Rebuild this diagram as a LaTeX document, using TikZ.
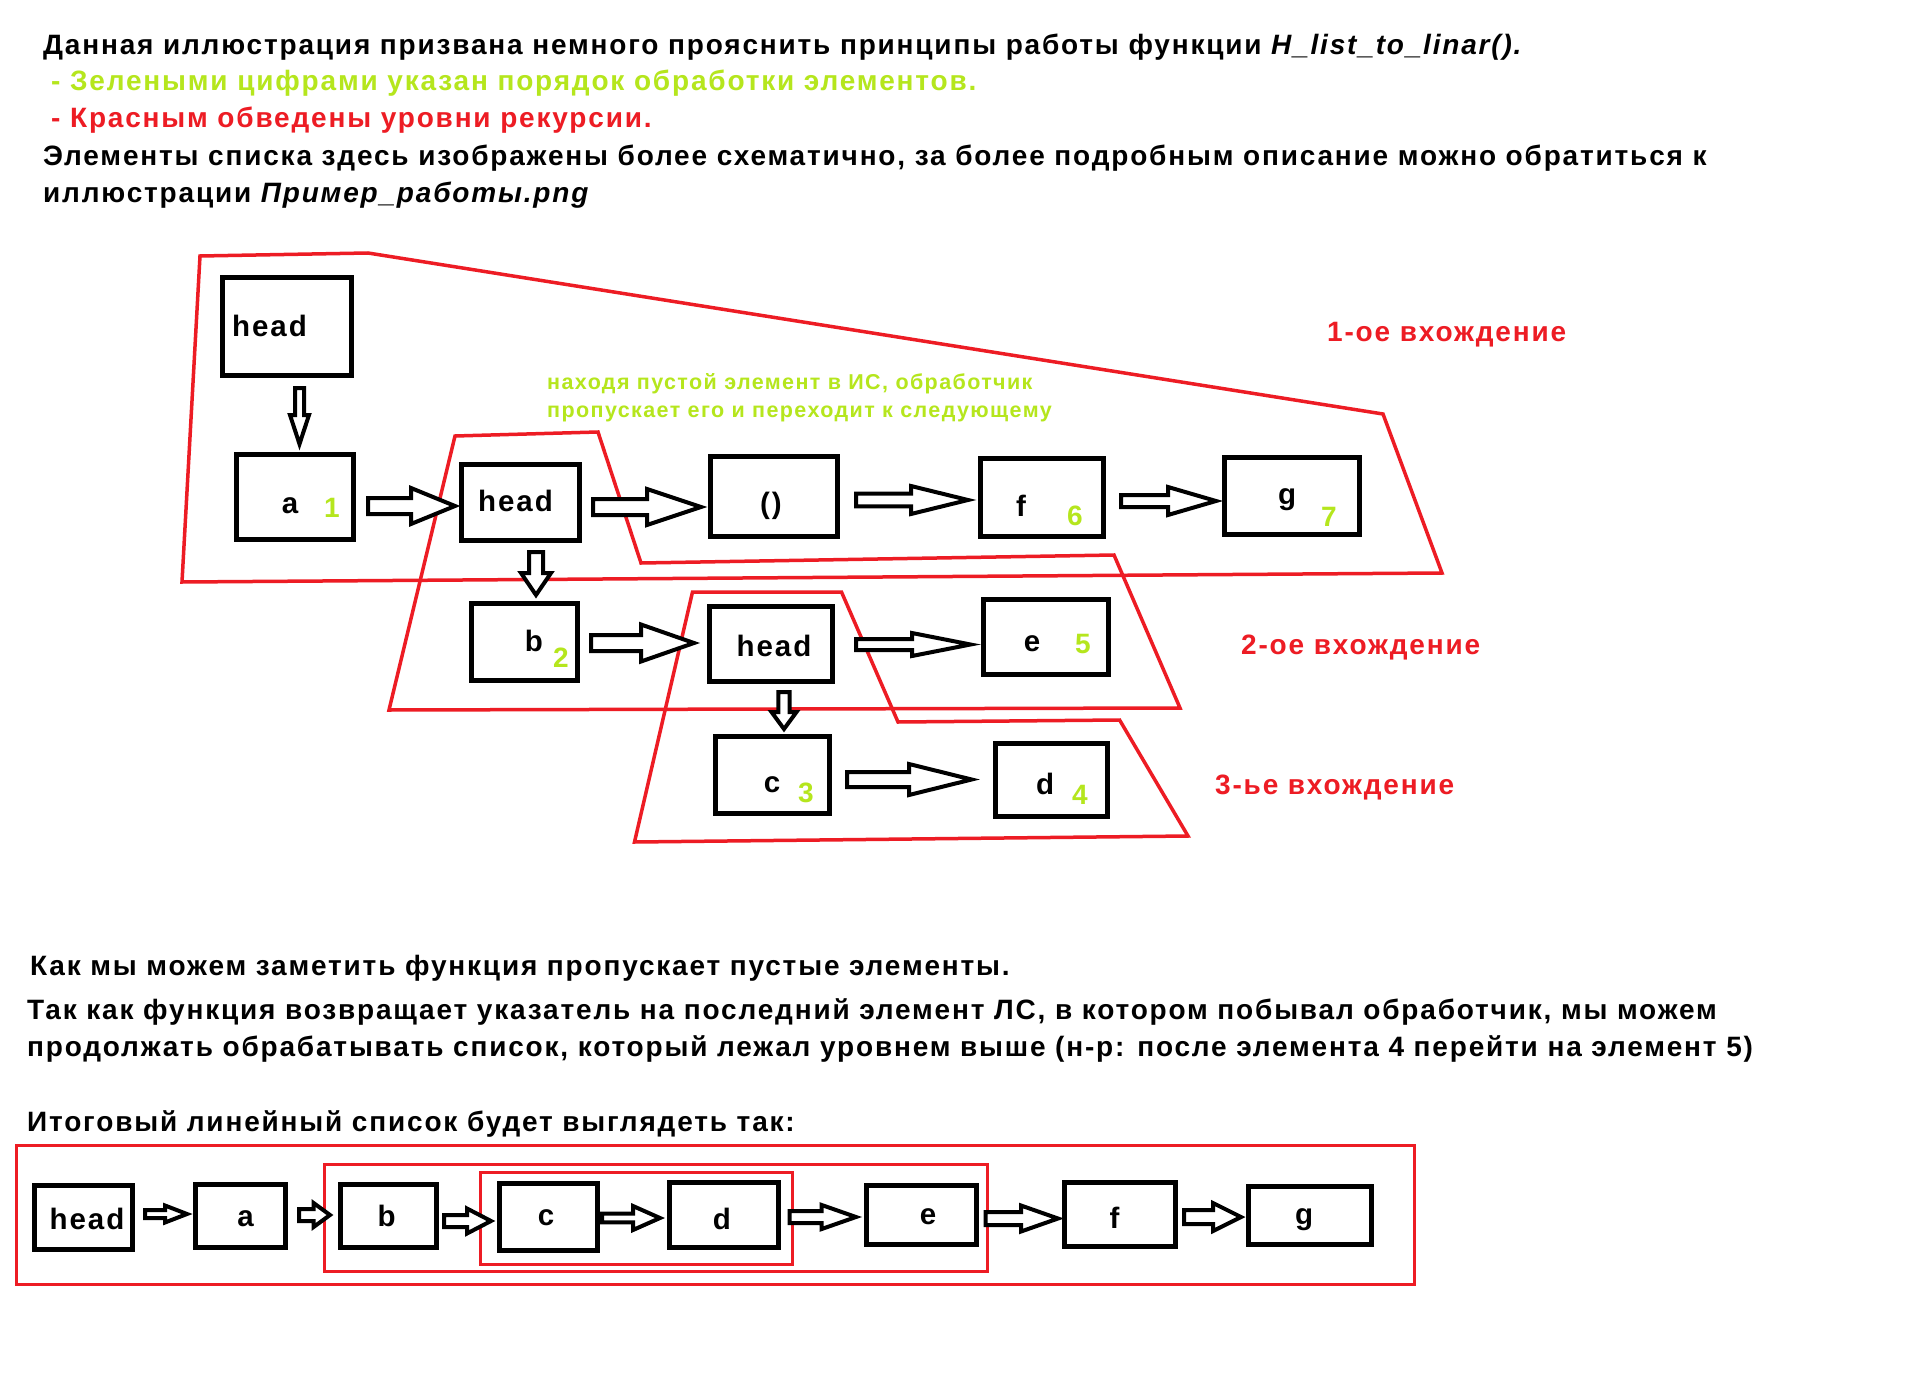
\documentclass[tikz,border=0pt]{standalone}
\usepackage{fontspec}
\setmainfont{Liberation Sans}[LetterSpace=6.5]
\usetikzlibrary{calc}
\definecolor{pred}{RGB}{237,28,36}
\definecolor{plime}{RGB}{181,230,29}
\newcommand\blkR[5]{\draw[blkarrow] let \p1=#1, \p2=#2 in
  (\x1,{\y1+#3pt}) -- ({\x2-#5pt},{\y1+#3pt}) -- ({\x2-#5pt},{\y1+#4pt}) -- (\x2,\y1)
  -- ({\x2-#5pt},{\y1-#4pt}) -- ({\x2-#5pt},{\y1-#3pt}) -- (\x1,{\y1-#3pt}) -- cycle;}
\newcommand\blkD[5]{\draw[blkarrow] let \p1=#1, \p2=#2 in
  ({\x1-#3pt},\y1) -- ({\x1-#3pt},{\y2+#5pt}) -- ({\x1-#4pt},{\y2+#5pt}) -- (\x1,\y2)
  -- ({\x1+#4pt},{\y2+#5pt}) -- ({\x1+#3pt},{\y2+#5pt}) -- ({\x1+#3pt},\y1) -- cycle;}
\begin{document}
\begin{tikzpicture}[x=1pt,y=-1pt,
  txt/.style={anchor=base west,inner sep=0pt,font=\fontsize{28}{34}\selectfont\bfseries},
  small/.style={anchor=base west,inner sep=0pt,text=plime,font=\fontsize{21.5}{26}\selectfont\bfseries},
  lbl/.style={anchor=base,inner sep=0pt,font=\fontsize{29.5}{34}\selectfont\bfseries},
  num/.style={anchor=base,inner sep=0pt,text=plime,font=\fontsize{28}{34}\selectfont\bfseries},
  box/.style={draw=black,line width=5pt,fill=none,inner sep=0pt},
  blkarrow/.style={draw=black,fill=white,line width=4pt,line join=miter},
  redline/.style={draw=pred,line width=3.5pt,line join=miter},
  redrect/.style={draw=pred,line width=3pt}]
\useasboundingbox (0,0) rectangle (1914,1375);
\fill[white] (0,0) rectangle (1914,1375);

% header text
\node[txt] (t1) at (43,55) {Данная иллюстрация призвана немного прояснить принципы работы функции \textit{H\_list\_to\_linar().}};
\node[txt,text=plime] (t2) at (51,91) {- Зелеными цифрами указан порядок обработки элементов.};
\node[txt,text=pred] (t3) at (51,128) {- Красным обведены уровни рекурсии.};
\node[txt] (t4) at (43,166) {Элементы списка здесь изображены более схематично, за более подробным описание можно обратиться к};
\node[txt] (t5) at (43,203) {иллюстрации \textit{Пример\_работы.png}};

% recursion levels
\draw[redline] (200,256) -- (368,253) -- (1383,414) -- (1442,573) -- (182,582) -- cycle;
\draw[redline] (455,436) -- (598,432) -- (641,563) -- (1114,555) -- (1180,708) -- (389,710) -- cycle;
\draw[redline] (692.5,592) -- (841.5,592) -- (898,722) -- (1119.6,720) -- (1188,836) -- (634.5,842) -- cycle;

% boxes
\node[box,minimum width=129pt,minimum height=98pt] (hd1) at (287,326.5) {};
\node[box,minimum width=117pt,minimum height=85pt] (a) at (295,497) {};
\node[box,minimum width=118pt,minimum height=76pt] (hd2) at (520.5,502.5) {};
\node[box,minimum width=127pt,minimum height=80pt] (emp) at (774,496.5) {};
\node[box,minimum width=123pt,minimum height=78pt] (f) at (1042,497.5) {};
\node[box,minimum width=135pt,minimum height=77pt] (g) at (1292,496) {};
\node[box,minimum width=106pt,minimum height=77pt] (b) at (524.5,642) {};
\node[box,minimum width=122.5pt,minimum height=75pt] (hd3) at (770.75,644) {};
\node[box,minimum width=125pt,minimum height=75pt] (e) at (1046,637) {};
\node[box,minimum width=114pt,minimum height=77pt] (c) at (772.5,775) {};
\node[box,minimum width=112pt,minimum height=73pt] (d) at (1051.5,780) {};

% box texts
\node[lbl,anchor=base west] (hd1t) at (232,336) {head};
\node[lbl] (at) at (290,513) {a};
\node[num] (an) at (332,517) {1};
\node[lbl] (hd2t) at (515.5,511) {head};
\node[lbl] (empt) at (771,513) {()};
\node[lbl] (ft) at (1021,516) {f};
\node[num] (fn) at (1075,525) {6};
\node[lbl] (gt) at (1287,504) {g};
\node[num] (gn) at (1329,526) {7};
\node[lbl] (bt) at (534,651) {b};
\node[num] (bn) at (561,667) {2};
\node[lbl] (hd3t) at (774,656) {head};
\node[lbl] (et) at (1032,651) {e};
\node[num] (en) at (1083,653) {5};
\node[lbl] (ct) at (772,792) {c};
\node[num] (cn) at (806,802) {3};
\node[lbl] (dt) at (1045,794) {d};
\node[num] (dn) at (1080,804) {4};

% block arrows
\blkD{($(hd1.south)+(12.5,10)$)}{($(a.north)+(0,-8)$)}{4.5}{9.5}{29}
\blkR{($(a.east)+(12,9)$)}{($(hd2.west)+(-4,0)$)}{8}{18}{44}
\blkR{($(hd2.east)+(11,4.5)$)}{($(emp.west)+(-7,0)$)}{8}{18}{54}
\blkR{($(emp.east)+(16,3.5)$)}{($(f.west)+(-10,0)$)}{6.3}{14}{57}
\blkR{($(f.east)+(15,3.5)$)}{($(g.west)+(-6,0)$)}{6}{14}{48}
\blkD{($(hd2.south)+(15.5,9)$)}{($(b.north)+(0,-6)$)}{7}{15}{22}
\blkR{($(b.east)+(11,1)$)}{($(hd3.west)+(-13,0)$)}{8}{18.5}{53}
\blkR{($(hd3.east)+(21.5,0.5)$)}{($(e.west)+(-10.5,0)$)}{5.5}{11.5}{58.5}
\blkD{($(hd3.south)+(13.25,8)$)}{($(c.north)+(0,-5)$)}{5.6}{12.5}{17}
\blkR{($(c.east)+(15,4.5)$)}{($(d.west)+(-21.4,0)$)}{7.5}{15.5}{62.6}

% annotations
\node[small] (n1) at (547,389) {находя пустой элемент в ИС, обработчик};
\node[small] (n2) at (547,417) {пропускает его и переходит к следующему};
\node[txt,text=pred] (l1) at (1327,341) {1-ое вхождение};
\node[txt,text=pred] (l2) at (1241,654) {2-ое вхождение};
\node[txt,text=pred] (l3) at (1215,794) {3-ье вхождение};

% bottom text
\node[txt] (t6) at (30,975) {Как мы можем заметить функция пропускает пустые элементы.};
\node[txt] (t7) at (27,1019) {Так как функция возвращает указатель на последний элемент ЛС, в котором побывал обработчик, мы можем};
\node[txt] (t8) at (27,1056) {продолжать обрабатывать список, который лежал уровнем выше (н-р: после элемента 4 перейти на элемент 5)};
\node[txt] (t9) at (27,1131) {Итоговый линейный список будет выглядеть так:};

% final list
\draw[redrect] (16.5,1145) rectangle (1414,1284);
\draw[redrect] (324,1164) rectangle (987,1271);
\draw[redrect] (480,1172) rectangle (792,1264);

\node[box,minimum width=97.5pt,minimum height=64pt] (bh) at (83.25,1217.5) {};
\node[box,minimum width=90pt,minimum height=63pt] (ba) at (240.5,1216) {};
\node[box,minimum width=95.5pt,minimum height=63pt] (bb) at (388.25,1216) {};
\node[box,minimum width=98pt,minimum height=67pt] (bc) at (548.5,1217) {};
\node[box,minimum width=109pt,minimum height=65pt] (bd) at (724,1215) {};
\node[box,minimum width=110pt,minimum height=59pt] (be) at (921.5,1215) {};
\node[box,minimum width=110.5pt,minimum height=64pt] (bf) at (1119.75,1214.5) {};
\node[box,minimum width=123pt,minimum height=58pt] (bg) at (1310,1215.5) {};

\node[lbl] (bht) at (87,1229) {head};
\node[lbl] (bat) at (245.6,1226) {a};
\node[lbl] (bbt) at (386.6,1226) {b};
\node[lbl] (bct) at (546,1225) {c};
\node[lbl] (bdt) at (722,1229) {d};
\node[lbl] (bet) at (928,1224) {e};
\node[lbl] (bft) at (1114.6,1228) {f};
\node[lbl] (bgt) at (1304,1224) {g};

\blkR{($(bh.east)+(10.5,-3.5)$)}{($(ba.west)+(-6,0)$)}{4}{8.5}{22}
\blkR{($(ba.east)+(11,-1)$)}{($(bb.west)+(-8,0)$)}{6}{12}{16.4}
\blkR{($(bb.east)+(5.5,5)$)}{($(bc.west)+(-6,0)$)}{6}{12.5}{24}
\blkR{($(bc.east)+(2,1)$)}{($(bd.west)+(-7,0)$)}{4.3}{12}{27}
\blkR{($(bd.east)+(8.5,2)$)}{($(be.west)+(-8,0)$)}{6}{12}{34.3}
\blkR{($(be.east)+(6.6,3.5)$)}{($(bf.west)+(-4,0)$)}{6.5}{13}{37}
\blkR{($(bf.east)+(6.5,2.5)$)}{($(bg.west)+(-5,0)$)}{7}{14}{28}
\end{tikzpicture}
\end{document}
